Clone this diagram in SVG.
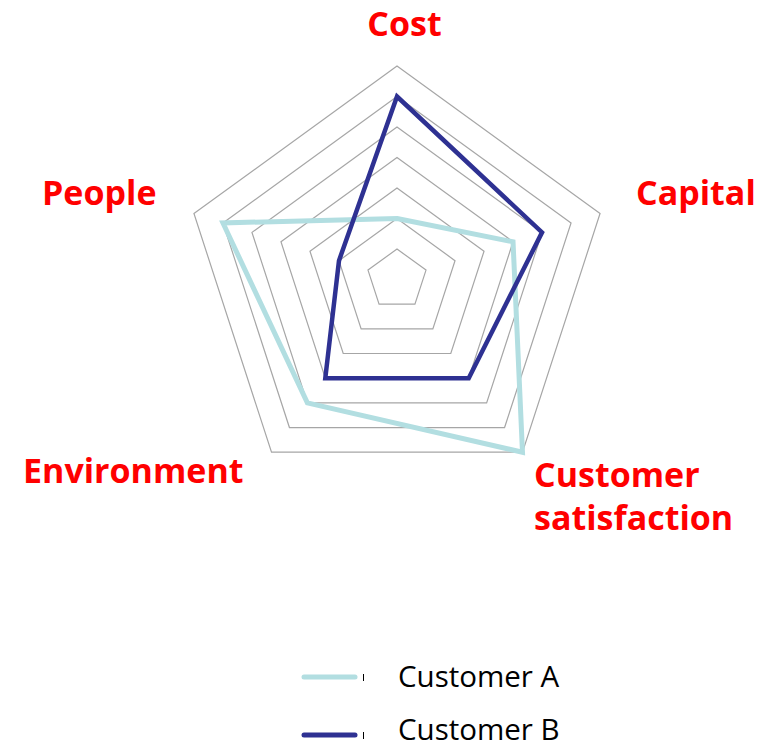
<svg xmlns="http://www.w3.org/2000/svg" width="773" height="751" viewBox="0 0 773 751">
<style>
.ring{fill:none;stroke:#A6A6A6;stroke-width:1.2}
.axis{font-family:"Open Sans","DejaVu Sans",sans-serif;font-weight:bold;font-size:34px;fill:#FF0000}
.leg{font-family:"Open Sans","DejaVu Sans",sans-serif;font-size:29.5px;fill:#000}
.sa{fill:none;stroke:#B2DEE1;stroke-width:5;stroke-linejoin:miter}
.sb{fill:none;stroke:#2E3192;stroke-width:4.5;stroke-linejoin:miter}
</style>
<rect width="773" height="751" fill="#fff"/>
<g id="grid">
<polygon class="ring" points="397,249 426.01,270.08 414.93,304.17 379.07,304.17 367.99,270.08"/>
<polygon class="ring" points="397,218.5 455.02,260.65 432.86,328.85 361.14,328.85 338.98,260.65"/>
<polygon class="ring" points="397,188 484.03,251.23 450.78,353.52 343.22,353.52 309.97,251.23"/>
<polygon class="ring" points="397,157.5 513.03,241.8 468.71,378.2 325.29,378.2 280.97,241.8"/>
<polygon class="ring" points="397,127 542.04,232.38 486.64,402.87 307.36,402.87 251.96,232.38"/>
<polygon class="ring" points="397,96.5 571.05,222.95 504.57,427.55 289.43,427.55 222.95,222.95"/>
<polygon class="ring" points="397,66 600.06,213.53 522.49,452.22 271.51,452.22 193.94,213.53"/>
</g>
<g id="series">
<polygon id="customer-a" class="sa" points="397,218.5 513.03,241.8 522.49,452.22 307.36,402.87 222.95,222.95"/>
<polygon id="customer-b" class="sb" points="397,96.5 542.04,232.38 468.71,378.2 325.29,378.2 338.98,260.65"/>
</g>
<g id="labels">
<text id="cost" class="axis" x="404.5" y="36" text-anchor="middle">Cost</text>
<text id="capital" class="axis" x="636" y="205">Capital</text>
<text id="people" class="axis" x="42" y="205">People</text>
<text id="environment" class="axis" x="23" y="483">Environment</text>
<text id="satisfaction" class="axis" x="534" y="487">Customer<tspan x="534" y="530">satisfaction</tspan></text>
</g>
<g id="legend">
<line x1="304" y1="677" x2="355" y2="677" stroke="#B2DEE1" stroke-width="5" stroke-linecap="round"/>
<line x1="363.5" y1="674" x2="363.5" y2="681" stroke="#000" stroke-width="1"/>
<text class="leg" x="398" y="687">Customer A</text>
<line x1="304" y1="735" x2="355" y2="735" stroke="#2E3192" stroke-width="5" stroke-linecap="round"/>
<line x1="363.5" y1="732" x2="363.5" y2="739" stroke="#000" stroke-width="1"/>
<text class="leg" x="398" y="740">Customer B</text>
</g>
</svg>
